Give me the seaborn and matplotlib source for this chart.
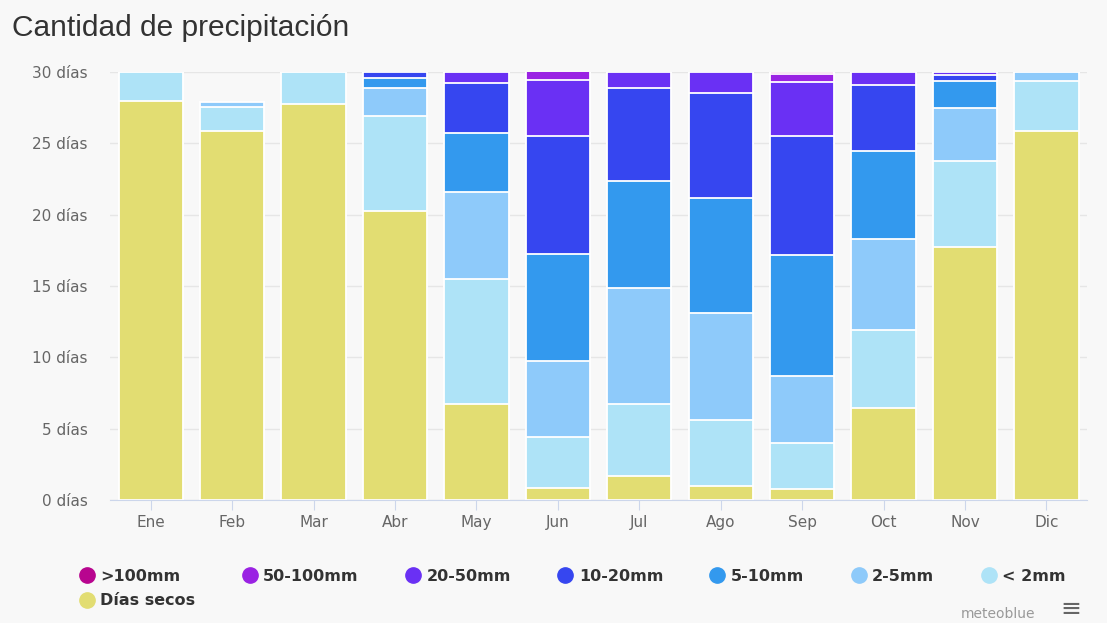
#!/usr/bin/env python3

"""
Stacked bars: precipitation days per month
"""

import numpy as np
import pandas as pd
import seaborn as sns
import matplotlib.pyplot as plt
from matplotlib.lines import Line2D

months = ["Ene", "Feb", "Mar", "Abr", "May", "Jun", "Jul", "Ago", "Sep", "Oct", "Nov", "Dic"]

# days per class, bottom to top
dias_secos = [28.0, 25.9, 27.75, 20.25, 6.7, 0.85, 1.7, 1.0, 0.8, 6.45, 17.7, 25.85]
menos_2mm = [2.0, 1.65, 2.25, 6.7, 8.8, 3.55, 5.05, 4.6, 3.2, 5.45, 6.05, 3.55]
mm_2_5 = [0.0, 0.35, 0.0, 1.9, 6.1, 5.35, 8.1, 7.5, 4.7, 6.4, 3.75, 0.6]
mm_5_10 = [0.0, 0.0, 0.0, 0.7, 4.1, 7.5, 7.5, 8.1, 8.5, 6.15, 1.9, 0.0]
mm_10_20 = [0.0, 0.0, 0.0, 0.45, 3.5, 8.3, 6.5, 7.3, 8.3, 4.65, 0.4, 0.0]
mm_20_50 = [0.0, 0.0, 0.0, 0.0, 0.8, 3.9, 1.15, 1.5, 3.8, 0.9, 0.2, 0.0]
mm_50_100 = [0.0, 0.0, 0.0, 0.0, 0.0, 0.6, 0.0, 0.0, 0.55, 0.0, 0.0, 0.0]
mm_100 = [0.0, 0.0, 0.0, 0.0, 0.0, 0.0, 0.0, 0.0, 0.15, 0.0, 0.0, 0.0]

labels = [">100mm", "50-100mm", "20-50mm", "10-20mm", "5-10mm", "2-5mm", "< 2mm", "Días secos"]
colors = ["#b8058f", "#9a22e3", "#6a30f4", "#3646f0", "#3399ee", "#8ecafa", "#aee3f7", "#e2dd72"]

df = pd.DataFrame({
    "Días secos": dias_secos,
    "< 2mm": menos_2mm,
    "2-5mm": mm_2_5,
    "5-10mm": mm_5_10,
    "10-20mm": mm_10_20,
    "20-50mm": mm_20_50,
    "50-100mm": mm_50_100,
    ">100mm": mm_100,
}, index=months)

# cumulative heights, drawn from the tallest down so the lower ones cover
cum = df.cumsum(axis=1)

bg = "#f8f8f8"
fig = plt.figure(figsize=(11.07, 6.23), dpi=100, facecolor=bg)
ax = fig.add_axes([0.0994, 0.1974, 0.8826, 0.687])
ax.set_facecolor(bg)

for lab, col in zip(labels, colors):
    sns.barplot(x=months, y=cum[lab].values, color=col, saturation=1,
                width=0.79, edgecolor="white", linewidth=1.3, ax=ax, zorder=3)

ax.set_ylim(0, 30)
ax.set_xlim(-0.5, len(months) - 0.5)
ax.set_yticks(range(0, 31, 5))
ax.set_yticklabels(["{} días".format(v) for v in range(0, 31, 5)])
ax.grid(axis="y", color="#e6e6e6", linewidth=1, zorder=0)
ax.grid(axis="x", visible=False)
for s in ["top", "right", "left"]:
    ax.spines[s].set_visible(False)
ax.spines["bottom"].set_color("#ccd6eb")
ax.spines["bottom"].set_zorder(4)
ax.tick_params(axis="y", length=0, pad=16, labelsize=11, labelcolor="#666666")
ax.tick_params(axis="x", length=7, color="#ccd6eb", pad=4, labelsize=11, labelcolor="#666666")
ax.set_xlabel("")
ax.set_ylabel("")

fig.text(0.011, 0.955, "Cantidad de precipitación", fontsize=21.5, color="#333333",
         family="Liberation Sans", va="center", ha="left")

# legend: first column holds two entries so "Días secos" lands under ">100mm"
order = [0, 7, 1, 2, 3, 4, 5, 6]
handles = [Line2D([], [], marker="o", linestyle="", markersize=11,
                  markerfacecolor=colors[i], markeredgecolor=colors[i]) for i in order]
fig.legend(handles, [labels[i] for i in order], ncol=7, loc="upper left",
           bbox_to_anchor=(0.058, 0.11), frameon=False, handletextpad=0.35,
           columnspacing=2.9, labelspacing=0.6, handlelength=1.0,
           prop={"weight": "bold", "size": 11.5, "family": "DejaVu Sans"},
           labelcolor="#333333")

fig.text(0.935, 0.003, "meteoblue", fontsize=10, color="#999999", ha="right", va="bottom")
fig.text(0.967, 0.003, "≡", fontsize=18, color="#666666", ha="center", va="bottom")

plt.savefig("out.png", dpi=100, facecolor=bg)
